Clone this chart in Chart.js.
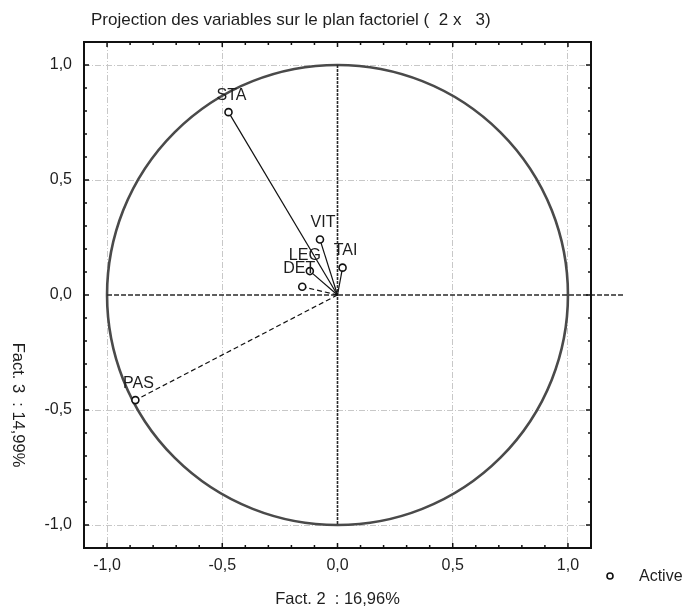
<!DOCTYPE html>
<html>
<head>
<meta charset="utf-8">
<script src="https://cdn.jsdelivr.net/npm/chart.js@4.4.0/dist/chart.umd.min.js"></script>
<style>
    html, body { margin: 0; padding: 0; background: #ffffff; }
    #wrap { width: 682px; height: 610px; }
</style>
</head>
<body>
<div id="wrap"><canvas id="circleChart" width="682" height="610"></canvas></div>
<script>
// =============== DATA ===============
const variableNames = ['STA', 'VIT', 'TAI', 'LEG', 'DET', 'PAS'];
const fact2Values = [-0.473, -0.076, 0.022, -0.12, -0.153, -0.877];
const fact3Values = [0.795, 0.241, 0.119, 0.104, 0.036, -0.457];
const tickValues = [-1.0, -0.5, 0.0, 0.5, 1.0];
const tickLabels = ['-1,0', '-0,5', '0,0', '0,5', '1,0'];

const chartTitle = 'Projection des variables sur le plan factoriel (  2 x   3)';
const xTitle = 'Fact. 2  : 16,96%';
const yTitle = 'Fact. 3  : 14,99%';
const legendLabel = 'Active';

// =============== STYLE ===============
const fontFamily = "'Liberation Sans', Arial, sans-serif";
const textColor = '#1e1e1e';
const axisMin = -1.1, axisMax = 1.1;
const hAxisEnd = 1.24;                // la ligne horizontale du 0 depasse le cadre
const dashedVectors = ['DET', 'PAS']; // vecteurs dessines en tirets
const labelNudge = { LEG: [-5, -15], DET: [-3, -18] };

function majorIndex(v) {
    return tickValues.findIndex(t => Math.abs(t - v) < 1e-6);
}

// =============== DATASETS ===============
const vectorSets = variableNames.map((name, i) => ({
    type: 'line',
    data: [{ x: 0, y: 0 }, { x: fact2Values[i], y: fact3Values[i] }],
    borderColor: '#111111',
    borderWidth: 1.2,
    borderDash: dashedVectors.includes(name) ? [5, 3] : [],
    pointRadius: 0,
    fill: false,
    order: 1
}));

const pointSet = {
    type: 'scatter',
    label: legendLabel,
    data: variableNames.map((n, i) => ({ x: fact2Values[i], y: fact3Values[i] })),
    pointStyle: 'circle',
    pointRadius: 3.5,
    pointBorderWidth: 1.6,
    pointBorderColor: '#111111',
    pointBackgroundColor: '#ffffff',
    order: 0
};

// =============== PLUGIN: cercle, cadre, textes ===============
const factorPlot = {
    id: 'factorPlot',
    beforeDraw(chart) {
        const ctx = chart.ctx;
        ctx.save();
        ctx.fillStyle = '#ffffff';
        ctx.fillRect(0, 0, chart.width, chart.height);
        ctx.restore();
    },
    beforeDatasetsDraw(chart) {
        const ctx = chart.ctx;
        const xs = chart.scales.x, ys = chart.scales.y;
        const cx = xs.getPixelForValue(0), cy = ys.getPixelForValue(0);
        ctx.save();

        // cercle des correlations
        ctx.strokeStyle = '#4a4a4a';
        ctx.lineWidth = 2.6;
        ctx.beginPath();
        ctx.ellipse(cx, cy, xs.getPixelForValue(1) - cx, cy - ys.getPixelForValue(1), 0, 0, Math.PI * 2);
        ctx.stroke();

        // axes au zero
        ctx.strokeStyle = '#2a2a2a';
        ctx.lineWidth = 1.4;
        ctx.setLineDash([5, 2]);
        ctx.beginPath();
        ctx.moveTo(xs.getPixelForValue(-1), cy);
        ctx.lineTo(xs.getPixelForValue(hAxisEnd), cy);
        ctx.stroke();
        ctx.lineWidth = 1.6;
        ctx.setLineDash([3, 1]);
        ctx.beginPath();
        ctx.moveTo(cx, ys.getPixelForValue(1));
        ctx.lineTo(cx, ys.getPixelForValue(-1));
        ctx.stroke();
        ctx.restore();
    },
    afterDatasetsDraw(chart) {
        const ctx = chart.ctx;
        const meta = chart.getDatasetMeta(chart.data.datasets.length - 1);
        ctx.save();
        ctx.font = '16px ' + fontFamily;
        ctx.fillStyle = textColor;
        ctx.textAlign = 'center';
        ctx.textBaseline = 'middle';
        meta.data.forEach((pt, i) => {
            const name = variableNames[i];
            const [dx, dy] = labelNudge[name] || [3, -17];
            ctx.fillText(name, pt.x + dx, pt.y + dy);
        });
        ctx.restore();
    },
    afterDraw(chart) {
        const ctx = chart.ctx;
        const { left, right, top, bottom } = chart.chartArea;
        const xs = chart.scales.x, ys = chart.scales.y;
        ctx.save();

        // cadre
        ctx.strokeStyle = '#111111';
        ctx.lineWidth = 2;
        ctx.strokeRect(left, top, right - left, bottom - top);

        // graduations vers l'interieur, sur les 4 cotes
        ctx.lineWidth = 1.5;
        ctx.beginPath();
        xs.ticks.forEach(t => {
            const px = xs.getPixelForValue(t.value);
            const len = majorIndex(t.value) >= 0 ? 5 : 3;
            ctx.moveTo(px, bottom); ctx.lineTo(px, bottom - len);
            ctx.moveTo(px, top); ctx.lineTo(px, top + len);
        });
        ys.ticks.forEach(t => {
            const py = ys.getPixelForValue(t.value);
            const len = majorIndex(t.value) >= 0 ? 5 : 3;
            ctx.moveTo(left, py); ctx.lineTo(left + len, py);
            ctx.moveTo(right, py); ctx.lineTo(right - len, py);
        });
        ctx.stroke();

        // titres
        ctx.fillStyle = textColor;
        ctx.font = '17px ' + fontFamily;
        ctx.textBaseline = 'middle';
        ctx.textAlign = 'left';
        ctx.fillText(chartTitle, 91, 20);

        ctx.font = '16.5px ' + fontFamily;
        ctx.textAlign = 'center';
        ctx.fillText(xTitle, (left + right) / 2, 599);

        ctx.save();
        ctx.translate(18, 405);
        ctx.rotate(Math.PI / 2);
        ctx.fillText(yTitle, 0, 0);
        ctx.restore();

        // legende
        ctx.strokeStyle = '#111111';
        ctx.lineWidth = 1.6;
        ctx.beginPath();
        ctx.arc(610, 576, 3, 0, Math.PI * 2);
        ctx.stroke();
        ctx.font = '16px ' + fontFamily;
        ctx.textAlign = 'left';
        ctx.fillText(legendLabel, 639, 577);

        ctx.restore();
    }
};

// =============== CHART ===============
const tickFont = { family: fontFamily, size: 16 };

function gridColor(c) {
    const k = c.tick ? majorIndex(c.tick.value) : -1;
    return (k >= 0 && tickValues[k] !== 0) ? '#c8c8c8' : 'rgba(0,0,0,0)';
}

const ctx = document.getElementById('circleChart').getContext('2d');
new Chart(ctx, {
    type: 'scatter',
    data: { datasets: [...vectorSets, pointSet] },
    options: {
        responsive: false,
        animation: false,
        layout: { padding: { top: 42, right: 91, left: 0, bottom: 0 } },
        plugins: {
            legend: { display: false },
            tooltip: { enabled: false },
            title: { display: false }
        },
        scales: {
            x: {
                type: 'linear',
                position: 'bottom',
                min: axisMin,
                max: axisMax,
                afterFit: s => { s.height = 62; },
                ticks: {
                    stepSize: 0.1,
                    autoSkip: false,
                    maxRotation: 0,
                    padding: 8,
                    color: textColor,
                    font: tickFont,
                    callback: v => { const k = majorIndex(v); return k >= 0 ? tickLabels[k] : ''; }
                },
                grid: { drawTicks: false, color: gridColor, lineWidth: 1 },
                border: { display: false, dash: [6, 2, 1, 2] }
            },
            y: {
                type: 'linear',
                position: 'left',
                min: axisMin,
                max: axisMax,
                afterFit: s => { s.width = 84; },
                ticks: {
                    stepSize: 0.1,
                    autoSkip: false,
                    padding: 12,
                    color: textColor,
                    font: tickFont,
                    callback: v => { const k = majorIndex(v); return k >= 0 ? tickLabels[k] : ''; }
                },
                grid: { drawTicks: false, color: gridColor, lineWidth: 1 },
                border: { display: false, dash: [6, 2, 1, 2] }
            }
        }
    },
    plugins: [factorPlot]
});
</script>
</body>
</html>
